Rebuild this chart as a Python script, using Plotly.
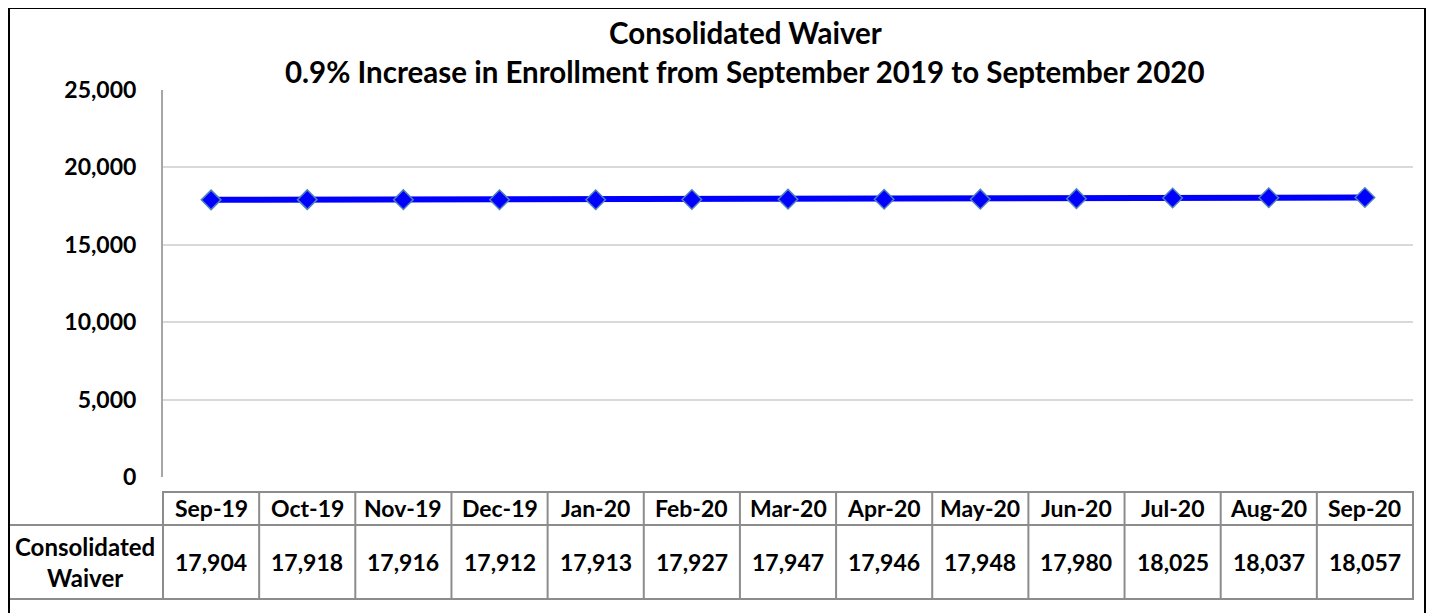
import plotly.graph_objects as go

months = ["Sep-19", "Oct-19", "Nov-19", "Dec-19", "Jan-20", "Feb-20", "Mar-20",
          "Apr-20", "May-20", "Jun-20", "Jul-20", "Aug-20", "Sep-20"]
enrollment = [17904, 17918, 17916, 17912, 17913, 17927, 17947,
              17946, 17948, 17980, 18025, 18037, 18057]
series_name = "Consolidated<br>Waiver"
title_line1 = "Consolidated Waiver"
title_line2 = "0.9% Increase in Enrollment from September 2019 to September 2020"
y_ticks = [0, 5000, 10000, 15000, 20000, 25000]

OFF = 8  # browser body margin
W, H = 1434 - OFF, 613 - OFF
# page-pixel geometry of plot area
PL, PR, PT, PB = 163, 1413, 90, 477
ML, MR, MT = PL - OFF, W - (PR - OFF), PT - OFF
MB = H - (PB - OFF)
PW, PH = PR - PL, PB - PT
FONT = "Lato"

def px_x(px):
    return (px - PL) / PW

def px_y(py):
    return (PB - py) / PH

fig = go.Figure()
fig.add_trace(go.Scatter(
    x=months, y=enrollment, mode="lines+markers",
    line=dict(color="#0000FF", width=6),
    marker=dict(symbol="diamond", size=15, color="#0000FF",
                line=dict(color="#4F81BD", width=1.5)),
    showlegend=False, cliponaxis=False,
))

n = len(months)
table_color = "#8C8C8C"
hdr_top, hdr_bot, val_bot = px_y(492), px_y(525), px_y(599)
shapes = []
shapes.append(dict(type="rect", xref="paper", yref="paper", x0=0, x1=1,
                   y0=hdr_bot, y1=hdr_top, line=dict(color=table_color, width=2)))
shapes.append(dict(type="rect", xref="paper", yref="paper", x0=px_x(9), x1=1,
                   y0=val_bot, y1=hdr_bot, line=dict(color=table_color, width=2)))
for i in range(n):
    xp = i / n
    shapes.append(dict(type="line", xref="paper", yref="paper", x0=xp, x1=xp,
                       y0=val_bot, y1=hdr_top, line=dict(color=table_color, width=2)))
shapes.append(dict(type="rect", xref="paper", yref="paper", x0=px_x(9), x1=px_x(1425),
                   y0=px_y(640), y1=px_y(8), line=dict(color="#000000", width=2)))

tfont = dict(family=FONT, size=23, color="black")
annotations = []
for m, v in zip(months, enrollment):
    annotations.append(dict(x=m, xref="x", y=(hdr_top + hdr_bot) / 2, yref="paper",
                            text=f"<b>{m}</b>", showarrow=False, font=tfont,
                            xanchor="center", yanchor="middle"))
    annotations.append(dict(x=m, xref="x", y=(hdr_bot + val_bot) / 2, yref="paper",
                            text=f"<b>{v:,}</b>", showarrow=False, font=tfont,
                            xanchor="center", yanchor="middle"))
annotations.append(dict(x=px_x(85), xref="paper", y=(hdr_bot + val_bot) / 2,
                        yref="paper", text=f"<b>{series_name}</b>", showarrow=False,
                        font=dict(family=FONT, size=24, color="black"),
                        xanchor="center", yanchor="middle"))
annotations.append(dict(x=px_x(745), xref="paper", y=px_y(32),
                        yref="paper", text=f"<b>{title_line1}</b>", showarrow=False,
                        font=dict(family=FONT, size=29.5, color="black"),
                        xanchor="center", yanchor="middle"))
annotations.append(dict(x=px_x(745), xref="paper", y=px_y(71),
                        yref="paper", text=f"<b>{title_line2}</b>", showarrow=False,
                        font=dict(family=FONT, size=29.5, color="black"),
                        xanchor="center", yanchor="middle"))

fig.update_layout(
    width=W, height=H,
    margin=dict(l=ML, r=MR, t=MT, b=MB, pad=0),
    paper_bgcolor="white", plot_bgcolor="white",
    shapes=shapes, annotations=annotations,
    xaxis=dict(type="category", range=[-0.5, n - 0.5], showticklabels=False,
               showgrid=False, zeroline=False, showline=False, ticks=""),
    yaxis=dict(range=[0, 25000], tickvals=y_ticks,
               ticktext=[f"<b>{t:,}</b>" for t in y_ticks],
               tickfont=dict(family=FONT, size=23, color="black"),
               showgrid=True, gridcolor="#D9D9D9", gridwidth=1.5,
               zeroline=False, showline=True, linecolor="#A6A6A6", linewidth=2,
               ticks="", ticklabelstandoff=20),
)
fig.write_html("out.html")
